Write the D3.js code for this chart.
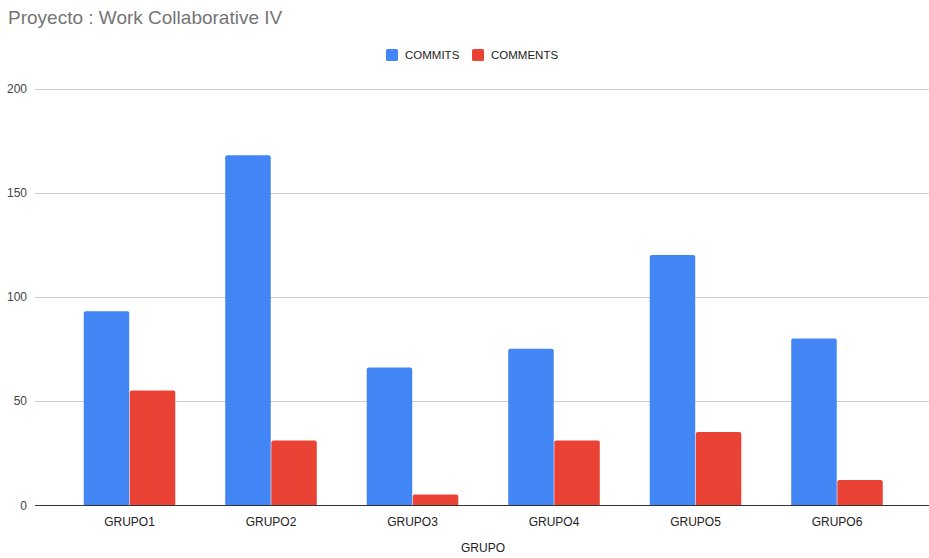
<!DOCTYPE html>
<html>
<head>
<meta charset="utf-8">
<script src="https://cdn.jsdelivr.net/npm/d3@7"></script>
<style>
  html, body { margin: 0; padding: 0; background: #fff; }
  svg { display: block; font-family: Arial, "Liberation Sans", sans-serif; }
</style>
</head>
<body>
<svg id="chart" width="929" height="558"></svg>
<script>
// Groups and their per-series counts
const groups = ["GRUPO1", "GRUPO2", "GRUPO3", "GRUPO4", "GRUPO5", "GRUPO6"];
const seriesNames = ["COMMITS", "COMMENTS"];
const commits = [93, 168, 66, 75, 120, 80];
const comments = [55, 31, 5, 31, 35, 12];
const yTicks = [0, 50, 100, 150, 200];
const colors = ["#4285f4", "#ea4335"];

const seriesValues = [commits, comments];
const rows = groups.map((g, i) => ({ group: g, values: seriesValues.map(s => s[i]) }));

const svg = d3.select("#chart");
const plot = { left: 35, right: 929, top: 88.5, bottom: 505 };

const y = d3.scaleLinear().domain([0, 200]).range([plot.bottom, plot.top]);
const x0 = d3.scaleBand().domain(groups).range([58.75, 907.75])
  .paddingInner(0.353).paddingOuter(0.1765);
const x1 = d3.scaleBand().domain(seriesNames).range([0, x0.bandwidth()]).paddingInner(0.012);

// Title
svg.append("text")
  .attr("x", 8).attr("y", 24)
  .attr("font-size", 19).attr("fill", "#757575")
  .text("Proyecto : Work Collaborative IV");

// Legend
const legend = svg.append("g");
const legendItems = [{ name: "COMMITS", x: 386 }, { name: "COMMENTS", x: 472 }];
legendItems.forEach((d, i) => {
  legend.append("rect")
    .attr("x", d.x).attr("y", 49).attr("width", 12).attr("height", 12)
    .attr("rx", 1.5).attr("fill", colors[i]);
  legend.append("text")
    .attr("x", d.x + 19).attr("y", 59)
    .attr("font-size", 11.5).attr("fill", "#222")
    .text(d.name);
});

// Horizontal gridlines and y labels
const yAxis = svg.append("g");
yTicks.forEach(t => {
  if (t !== 0) {
    yAxis.append("line")
      .attr("x1", plot.left).attr("x2", plot.right)
      .attr("y1", Math.round(y(t)) + 0.5).attr("y2", Math.round(y(t)) + 0.5)
      .attr("stroke", "#cccccc").attr("stroke-width", 1);
  }
  yAxis.append("text")
    .attr("x", 27).attr("y", y(t) + 4.5)
    .attr("text-anchor", "end")
    .attr("font-size", 12).attr("fill", "#444")
    .text(t);
});

// Bars, drawn with slightly rounded tops
function topRoundedRect(xp, yp, w, h, r) {
  r = Math.min(r, h, w / 2);
  return `M${xp},${yp + h}V${yp + r}Q${xp},${yp} ${xp + r},${yp}H${xp + w - r}Q${xp + w},${yp} ${xp + w},${yp + r}V${yp + h}Z`;
}

const groupSel = svg.append("g").selectAll("g")
  .data(rows).join("g")
  .attr("transform", d => `translate(${x0(d.group)},0)`);

groupSel.selectAll("path")
  .data(d => d.values.map((v, i) => ({ key: seriesNames[i], value: v, i })))
  .join("path")
  .attr("fill", d => colors[d.i])
  .attr("d", d => topRoundedRect(x1(d.key), y(d.value), x1.bandwidth(), y(0) - y(d.value), 2));

// Baseline
svg.append("line")
  .attr("x1", plot.left).attr("x2", plot.right)
  .attr("y1", Math.round(y(0)) + 0.5).attr("y2", Math.round(y(0)) + 0.5)
  .attr("stroke", "#333").attr("stroke-width", 1);

// X axis labels
const xAxis = d3.axisBottom(x0).tickSize(0).tickPadding(0);
const xg = svg.append("g").attr("transform", `translate(0,${plot.bottom})`).call(xAxis);
xg.select(".domain").remove();
xg.selectAll("text")
  .attr("y", 21).attr("dy", null)
  .attr("font-family", "Arial, 'Liberation Sans', sans-serif")
  .attr("font-size", 12).attr("fill", "#222");

// X axis title
svg.append("text")
  .attr("x", 483).attr("y", 552)
  .attr("text-anchor", "middle")
  .attr("font-size", 12).attr("fill", "#222")
  .text("GRUPO");
</script>
</body>
</html>
